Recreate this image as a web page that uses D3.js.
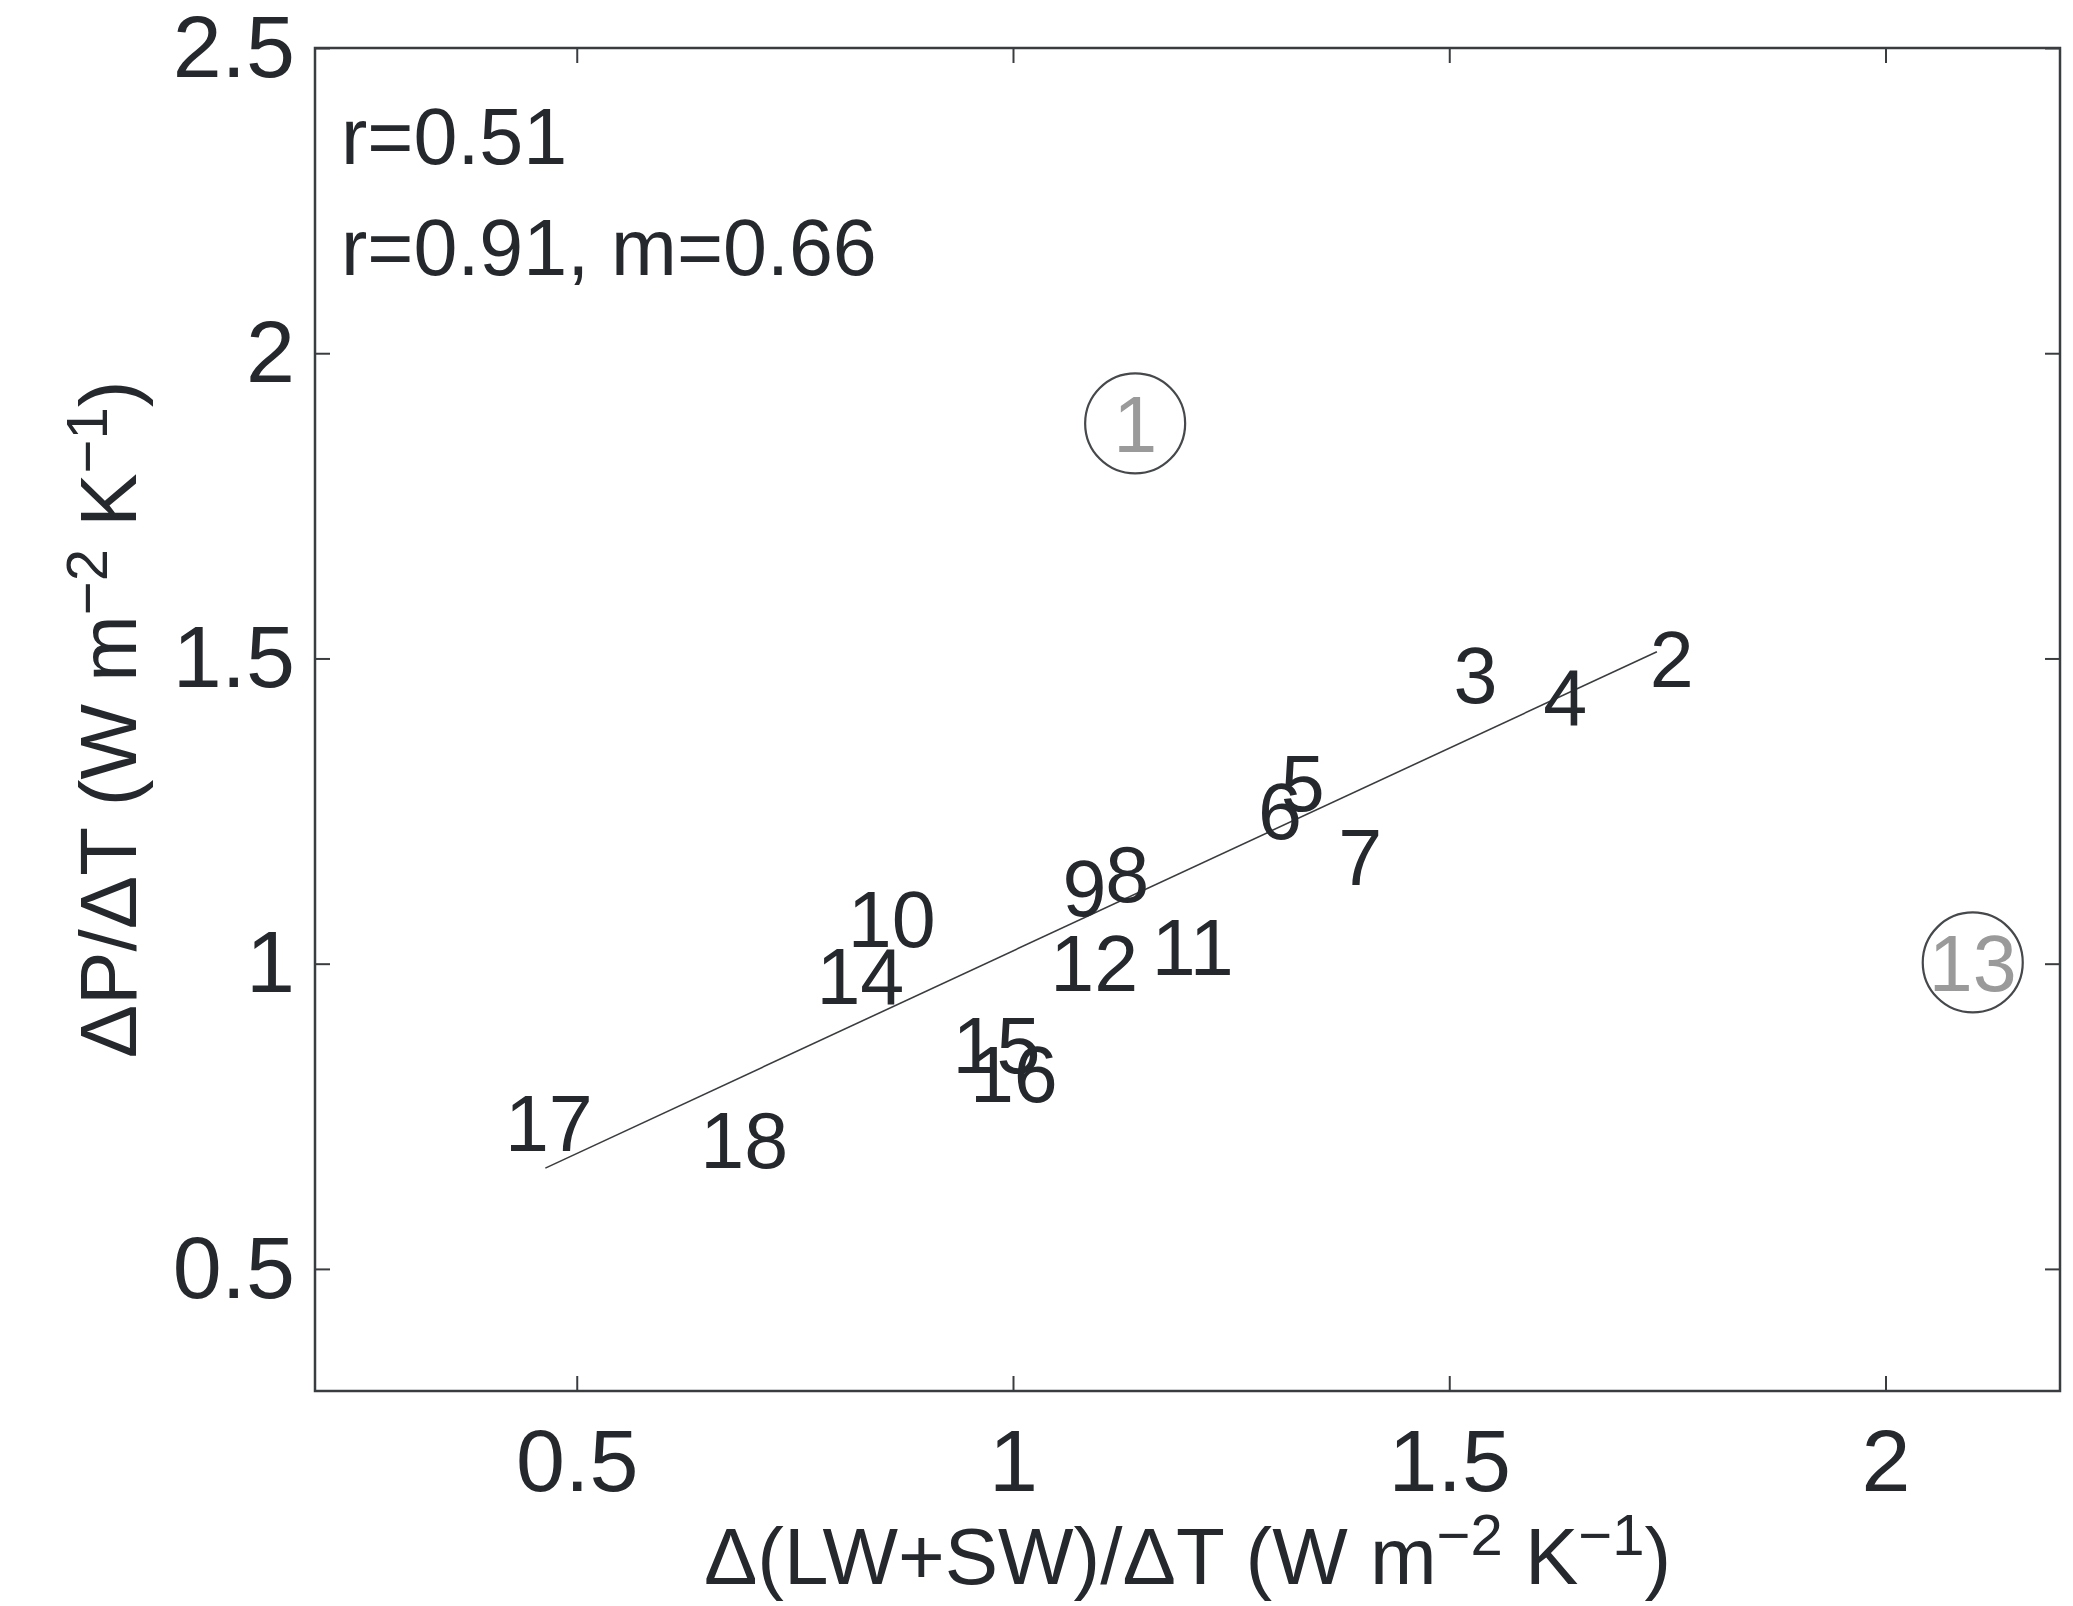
<!DOCTYPE html>
<html>
<head>
<meta charset="utf-8">
<script src="https://cdn.jsdelivr.net/npm/d3@7"></script>
<style>
  body { margin: 0; background: #fff; }
  svg text { font-family: "Liberation Sans", Arial, Helvetica, sans-serif; fill: #25282c; }
</style>
</head>
<body>
<div id="chart"></div>
<script>
// model labels and their positions (x: d(LW+SW)/dT, y: dP/dT)
var labels  = ["1", "2", "3", "4", "5", "6", "7", "8", "9", "10", "11", "12", "13", "14", "15", "16", "17", "18"];
var xValues = [1.14, 1.755, 1.53, 1.633, 1.332, 1.306, 1.398, 1.131, 1.082, 0.861, 1.206, 1.093, 2.10, 0.825, 0.981, 1.001, 0.468, 0.692];
var yValues = [1.885, 1.50, 1.474, 1.437, 1.297, 1.251, 1.175, 1.147, 1.125, 1.074, 1.028, 1.002, 1.002, 0.980, 0.868, 0.820, 0.740, 0.712];
// outliers drawn grey inside a circle
var outliers = ["1", "13"];

var xTicks = [0.5, 1, 1.5, 2];
var yTicks = [0.5, 1, 1.5, 2, 2.5];

// regression line
var fitSlope = 0.664, fitIntercept = 0.357;
var fitRange = [0.464, 1.738];

var stats = ["r=0.51", "r=0.91, m=0.66"];

var W = 2073, H = 1606;
var margin = { top: 48, right: 13, bottom: 215, left: 315 };
var width = W - margin.left - margin.right,
    height = H - margin.top - margin.bottom;
var fs = 79, tickFs = 88;

var svg = d3.select("#chart").append("svg")
  .attr("width", W)
  .attr("height", H);

var g = svg.append("g")
  .attr("transform", "translate(" + margin.left + "," + margin.top + ")");

var x = d3.scaleLinear().domain([0.2, 2.2]).range([0, width]);
var y = d3.scaleLinear().domain([0.3, 2.5]).range([height, 0]);

var fmt = function(d) { return d3.format("")(d); };

// axes, ticks pointing inward like matlab
var xAxis = g.append("g")
  .attr("transform", "translate(0," + height + ")")
  .call(d3.axisBottom(x).tickValues(xTicks).tickSizeInner(-15).tickSizeOuter(0).tickPadding(38).tickFormat(fmt));
var xAxisTop = g.append("g")
  .call(d3.axisTop(x).tickValues(xTicks).tickSizeInner(-15).tickSizeOuter(0).tickFormat(""));
var yAxis = g.append("g")
  .call(d3.axisLeft(y).tickValues(yTicks).tickSizeInner(-15).tickSizeOuter(0).tickPadding(20).tickFormat(fmt));
var yAxisRight = g.append("g")
  .attr("transform", "translate(" + width + ",0)")
  .call(d3.axisRight(y).tickValues(yTicks).tickSizeInner(-15).tickSizeOuter(0).tickFormat(""));

g.selectAll(".domain").remove();
g.selectAll(".tick line").attr("stroke", "#3a3d40").attr("stroke-width", 2);
g.selectAll(".tick text")
  .style("font-size", tickFs + "px")
  .attr("fill", "#25282c");

g.append("rect")
  .attr("width", width)
  .attr("height", height)
  .attr("fill", "none")
  .attr("stroke", "#3a3d40")
  .attr("stroke-width", 2.5);

// fit line
g.append("line")
  .attr("x1", x(fitRange[0]))
  .attr("y1", y(fitIntercept + fitSlope * fitRange[0]))
  .attr("x2", x(fitRange[1]))
  .attr("y2", y(fitIntercept + fitSlope * fitRange[1]))
  .attr("stroke", "#3a3d40")
  .attr("stroke-width", 1.6);

var data = labels.map(function(l, i) {
  return { label: l, x: xValues[i], y: yValues[i], out: outliers.indexOf(l) >= 0 };
});

// circles round the outliers
g.selectAll(".ring")
  .data(data.filter(function(d) { return d.out; }))
  .enter().append("circle")
  .attr("class", "ring")
  .attr("cx", function(d) { return x(d.x); })
  .attr("cy", function(d) { return y(d.y); })
  .attr("r", 50)
  .attr("fill", "none")
  .attr("stroke", "#46494c")
  .attr("stroke-width", 2.2);

g.selectAll(".lab")
  .data(data)
  .enter().append("text")
  .attr("class", "lab")
  .attr("x", function(d) { return x(d.x); })
  .attr("y", function(d) { return y(d.y); })
  .attr("dy", "0.36em")
  .attr("text-anchor", "middle")
  .style("font-size", fs + "px")
  .style("fill", function(d) { return d.out ? "#9a9a9a" : "#25282c"; })
  .text(function(d) { return d.label; });

// correlation text
g.selectAll(".stat")
  .data(stats)
  .enter().append("text")
  .attr("class", "stat")
  .attr("x", 26)
  .attr("y", function(d, i) { return 116 + i * 111; })
  .style("font-size", fs + "px")
  .text(function(d) { return d; });

// axis labels with superscripts
function unitLabel(sel, pre) {
  sel.append("tspan").text(pre + " (W m");
  sel.append("tspan").attr("dy", -29).style("font-size", "58px").text("\u22122");
  sel.append("tspan").attr("dy", 29).text(" K");
  sel.append("tspan").attr("dy", -29).style("font-size", "58px").text("\u22121");
  sel.append("tspan").attr("dy", 29).text(")");
}

var xl = svg.append("text")
  .attr("x", margin.left + width / 2)
  .attr("y", 1584)
  .attr("text-anchor", "middle")
  .style("font-size", "80px");
unitLabel(xl, "\u0394(LW+SW)/\u0394T");

var yl = svg.append("text")
  .attr("transform", "translate(136," + (margin.top + height / 2) + ") rotate(-90)")
  .attr("text-anchor", "middle")
  .style("font-size", "80px");
unitLabel(yl, "\u0394P/\u0394T");
</script>
</body>
</html>
